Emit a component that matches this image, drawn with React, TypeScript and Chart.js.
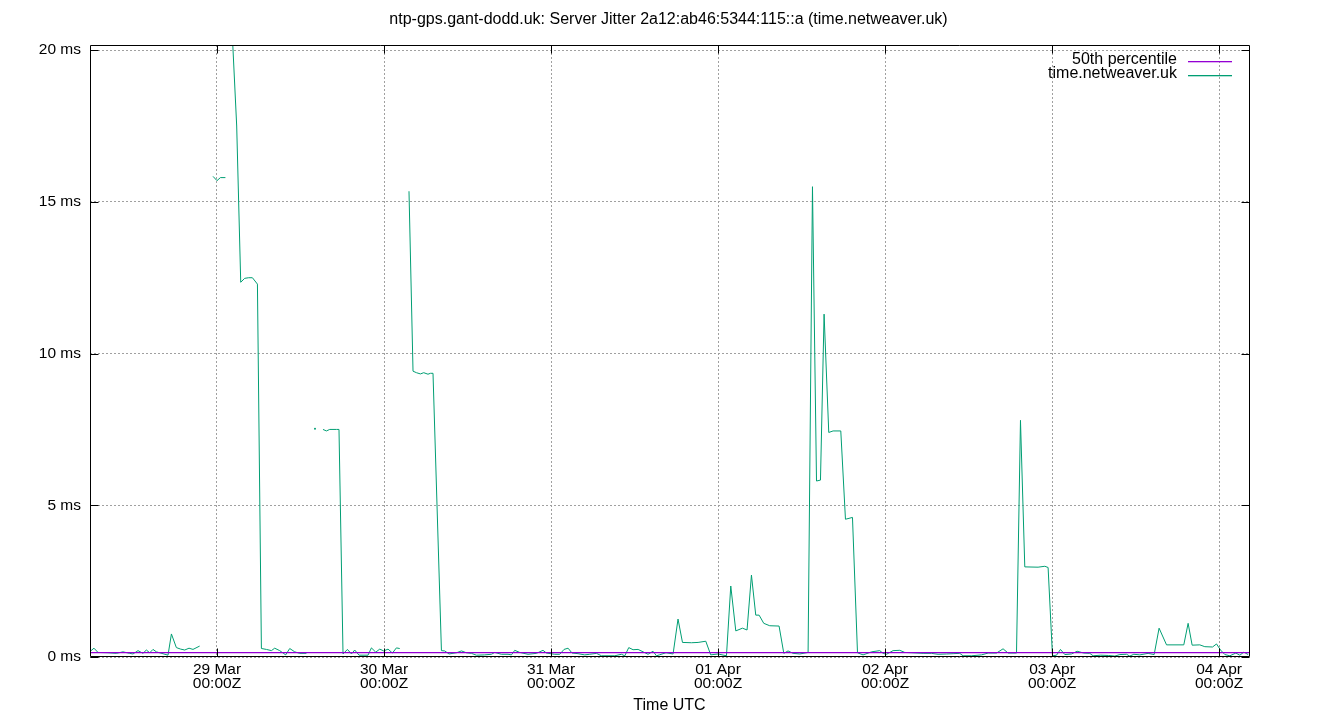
import React, { useEffect, useRef } from "react";
import { Chart, registerables } from "chart.js";

Chart.register(...registerables);

const chartTitle =
  "ntp-gps.gant-dodd.uk: Server Jitter 2a12:ab46:5344:115::a (time.netweaver.uk)";
const xAxisTitle = "Time UTC";
const seriesNames = ["50th percentile", "time.netweaver.uk"];
const seriesColors = ["#9400d3", "#009e73"];

// x values: hours since 28 Mar 00:00Z
const xRange = [5.75, 172.3];
const dayTickHours = [24, 48, 72, 96, 120, 144, 168];
const dayTickDates = ["29 Mar", "30 Mar", "31 Mar", "01 Apr", "02 Apr", "03 Apr", "04 Apr"];
const dayTickTimes = ["00:00Z", "00:00Z", "00:00Z", "00:00Z", "00:00Z", "00:00Z", "00:00Z"];
const yTicksMs = [0, 5, 10, 15, 20];
const yMaxMs = 20.17;

const medianHours = [5.75, 172.3];
const medianMs = [0.145, 0.145];

const jitterHours = [
  5.8, 6.32, 6.9, 8.33, 9.54, 10.49, 11.45, 11.93, 12.65, 13.36, 13.85, 14.33, 14.8, 15.29,
  16.96, 17.45, 18.16, 18.78, 19.36, 19.98, 20.55, 21.51, 22.5,
  23.43, 24.0, 24.49, 25.21, 25.5,
  25.78, 26.83, 27.41, 27.98, 28.56, 29.09, 29.81, 30.38, 31.1, 31.82, 32.29, 33.01, 33.87,
  34.45, 35.17, 35.89, 36.85, 37.5,
  38.08, 38.6,
  39.23, 39.72, 40.2, 40.67, 41.16, 41.53, 42.11, 42.74, 43.32, 43.79, 44.41, 45.7, 46.19,
  46.81, 47.39, 47.96, 48.58, 49.21, 49.78, 50.26, 50.9,
  51.59, 52.17, 52.66, 53.23, 53.71, 54.32, 54.67, 55.04, 56.25, 56.73, 57.34, 58.41, 59.13,
  59.84, 60.56, 61.28, 62.47, 63.44, 63.91, 64.87, 65.82, 66.31, 66.79, 67.5, 68.7, 69.9,
  70.85, 71.34, 72.53, 73.25, 73.87, 74.45, 75.02, 75.88, 76.85, 77.56, 78.53, 79.25, 80.19,
  81.16, 82.12, 82.6, 83.17, 83.79, 84.51, 85.23, 85.94, 86.66, 87.15, 87.56, 88.52, 89.54,
  90.25, 90.89, 92.18, 93.13, 94.24, 94.95, 96.0, 97.21, 97.83, 98.55, 99.51, 100.17, 100.8,
  101.42, 101.9, 102.57, 103.43, 104.77, 105.45, 106.06, 106.78, 107.75, 108.94, 109.57,
  110.15, 110.72, 111.24, 111.91, 112.53, 113.64, 114.31, 115.32, 116.04, 116.84, 117.71,
  118.05, 119.24, 119.72, 120.21, 121.15, 122.12, 122.84, 123.8, 125.47, 126.67, 127.62,
  128.83, 129.78, 130.74, 131.21, 132.42, 133.86, 134.81, 136.02, 136.96, 137.68, 138.89,
  139.46, 140.08, 141.99, 142.96, 143.43, 144.06, 144.64, 145.21, 145.83, 146.79, 147.6,
  148.56, 149.42, 149.9, 151.0, 152.1, 153.02, 153.74, 154.7, 155.17, 155.75, 156.61, 157.8,
  158.67, 159.38, 160.45, 162.93, 163.55, 164.13, 165.23, 165.95, 167.06, 167.63, 168.21,
  168.83, 169.55, 170.41, 170.98, 171.56, 172.18,
];

const jitterMs: (number | null)[] = [
  0.19, 0.29, 0.15, 0.14, 0.12, 0.17, 0.12, 0.1, 0.21, 0.12, 0.23, 0.14, 0.25, 0.17,
  0.06, 0.76, 0.31, 0.26, 0.23, 0.29, 0.25, 0.36, null,
  15.84, 15.7, 15.8, 15.8, null,
  22.5, 17.5, 12.35, 12.48, 12.5, 12.5, 12.29, 0.28, 0.25, 0.21, 0.29, 0.21, 0.07,
  0.28, 0.17, 0.12, 0.12, null,
  7.52, null,
  7.5, 7.45, 7.5, 7.5, 7.5, 7.5, 0.1, 0.25, 0.1, 0.23, 0.06, 0.06, 0.3,
  0.16, 0.26, 0.2, 0.26, 0.13, 0.3, 0.28, null,
  15.35, 9.42, 9.37, 9.33, 9.37, 9.32, 9.35, 9.35, 0.21, 0.2, 0.1, 0.14, 0.2,
  0.14, 0.12, 0.06, 0.07, 0.09, 0.15, 0.09, 0.09, 0.07, 0.22, 0.15, 0.09, 0.12,
  0.22, 0.13, 0.09, 0.09, 0.25, 0.29, 0.13, 0.11, 0.07, 0.09, 0.12, 0.04, 0.04,
  0.04, 0.09, 0.04, 0.31, 0.24, 0.25, 0.17, 0.09, 0.19, 0.04, 0.07, 0.14, 0.1,
  1.25, 0.48, 0.47, 0.48, 0.52, 0.07, 0.1, 0.04, 2.34, 0.86, 0.95, 0.89, 2.7,
  1.38, 1.38, 1.11, 1.03, 1.02, 0.12, 0.2, 0.12, 0.1, 0.15, 15.5,
  5.8, 5.83, 11.3, 7.4, 7.45, 7.45, 4.54, 4.6, 0.14, 0.07, 0.14,
  0.17, 0.21, 0.12, 0.09, 0.21, 0.22, 0.15, 0.14, 0.12, 0.12, 0.09,
  0.1, 0.11, 0.12, 0.04, 0.04, 0.07, 0.13, 0.13, 0.27, 0.13, 0.13,
  7.8, 2.97, 2.96, 2.99, 2.95, 0.04, 0.06, 0.25, 0.08, 0.1, 0.19,
  0.13, 0.12, 0.04, 0.06, 0.05, 0.03, 0.08, 0.09, 0.03, 0.09, 0.07, 0.12,
  0.08, 0.95, 0.4, 0.4, 1.11, 0.39, 0.4, 0.34, 0.33, 0.43, 0.23,
  0.08, 0.04, 0.13, 0.06, 0.16, 0.08,
];

const FONT = "'Liberation Sans', Arial, sans-serif";

const gnuplotFrame = {
  id: "gnuplotFrame",
  afterDatasetsDraw(chart: any) {
    const { ctx, chartArea: a, scales } = chart;
    const L = Math.round(a.left) + 0.5;
    const R = Math.round(a.right) + 0.5;
    const T = Math.round(a.top) + 0.5;
    const B = Math.round(a.bottom) - 0.5;
    const tl = 8;
    ctx.save();
    ctx.strokeStyle = "#000";
    ctx.lineWidth = 1;
    ctx.setLineDash([]);
    ctx.beginPath();
    ctx.rect(L, T, R - L, B - T);
    for (const v of dayTickHours) {
      const px = Math.round(scales.x.getPixelForValue(v)) + 0.5;
      ctx.moveTo(px, B);
      ctx.lineTo(px, B - tl);
      ctx.moveTo(px, T);
      ctx.lineTo(px, T + tl);
    }
    for (const v of yTicksMs) {
      const py = Math.round(scales.y.getPixelForValue(v)) + 0.5;
      ctx.moveTo(L, py);
      ctx.lineTo(L + tl, py);
      ctx.moveTo(R, py);
      ctx.lineTo(R - tl, py);
    }
    ctx.stroke();
    ctx.restore();
  },
  afterDraw(chart: any) {
    const { ctx, chartArea: a } = chart;
    ctx.save();
    ctx.setLineDash([]);
    ctx.globalAlpha = 1;
    ctx.font = `16px ${FONT}`;
    ctx.fillStyle = "#000";
    // title
    ctx.textAlign = "center";
    ctx.textBaseline = "middle";
    ctx.fillText(chartTitle, (a.left + a.right) / 2 - 1, 20);
    // key
    ctx.textAlign = "right";
    const rows = [59.5, 74];
    seriesNames.forEach((name, i) => {
      const y = rows[i];
      ctx.fillStyle = "#000";
      ctx.fillText(name, 1177, y);
      ctx.fillStyle = seriesColors[i];
      ctx.fillRect(1188, Math.round(y + 1), 44, 1.3);
    });
    ctx.restore();
  },
};

export default function App() {
  const ref = useRef<HTMLCanvasElement>(null);

  useEffect(() => {
    if (!ref.current) return;
    Chart.defaults.font.family = FONT;
    Chart.defaults.color = "#000";

    const chart = new Chart(ref.current, {
      type: "line",
      data: {
        datasets: [
          {
            label: seriesNames[0],
            data: medianHours.map((h, i) => ({ x: h, y: medianMs[i] })),
            borderColor: seriesColors[0],
            backgroundColor: seriesColors[0],
            borderWidth: 1.2,
            pointRadius: 0,
            tension: 0,
          },
          {
            label: seriesNames[1],
            data: jitterHours.map((h, i) => ({ x: h, y: jitterMs[i] })) as any,
            borderColor: seriesColors[1],
            backgroundColor: seriesColors[1],
            borderWidth: 1,
            pointRadius: (c: any) => {
              const i = c.dataIndex;
              return jitterMs[i] != null && jitterMs[i - 1] == null && jitterMs[i + 1] == null ? 1 : 0;
            },
            pointBorderWidth: 0,
            spanGaps: false,
            tension: 0,
          },
        ],
      },
      options: {
        responsive: false,
        animation: false,
        events: [],
        layout: { padding: { left: 0, right: 91, top: 45, bottom: 0 } },
        plugins: {
          legend: { display: false },
          tooltip: { enabled: false },
          title: { display: false },
        },
        scales: {
          x: {
            type: "linear",
            min: xRange[0],
            max: xRange[1],
            afterBuildTicks: (s: any) => {
              s.ticks = dayTickHours.map((v) => ({ value: v }));
            },
            afterFit: (s: any) => {
              s.height = 63;
            },
            ticks: {
              autoSkip: false,
              maxRotation: 0,
              padding: 5,
              color: "#000",
              font: { size: 15.5, lineHeight: 0.95, family: FONT },
              callback: (v: any) => {
                const i = dayTickHours.indexOf(Number(v));
                return i >= 0 ? [dayTickDates[i], dayTickTimes[i]] : "";
              },
            },
            grid: { color: "#a0a0a0", lineWidth: 1, drawTicks: false },
            border: { display: false, dash: [2, 2] },
            title: {
              display: true,
              text: xAxisTitle,
              color: "#000",
              font: { size: 16, family: FONT },
              padding: { top: 0, bottom: 4.4 },
            },
          },
          y: {
            type: "linear",
            min: 0,
            max: yMaxMs,
            afterBuildTicks: (s: any) => {
              s.ticks = yTicksMs.map((v) => ({ value: v }));
            },
            afterFit: (s: any) => {
              s.width = 90;
            },
            ticks: {
              autoSkip: false,
              padding: 9,
              color: "#000",
              font: { size: 15.5, family: FONT },
              callback: (v: any) => `${v} ms`,
            },
            grid: { color: "#a0a0a0", lineWidth: 1, drawTicks: false },
            border: { display: false, dash: [2, 2] },
          },
        },
      },
      plugins: [gnuplotFrame],
    } as any);

    return () => chart.destroy();
  }, []);

  return (
    <div
      style={{
        position: "absolute",
        left: 0,
        top: 0,
        width: 1340,
        height: 720,
        background: "#fff",
      }}
    >
      <canvas ref={ref} width={1340} height={720} style={{ display: "block", width: 1340, height: 720 }} />
    </div>
  );
}
